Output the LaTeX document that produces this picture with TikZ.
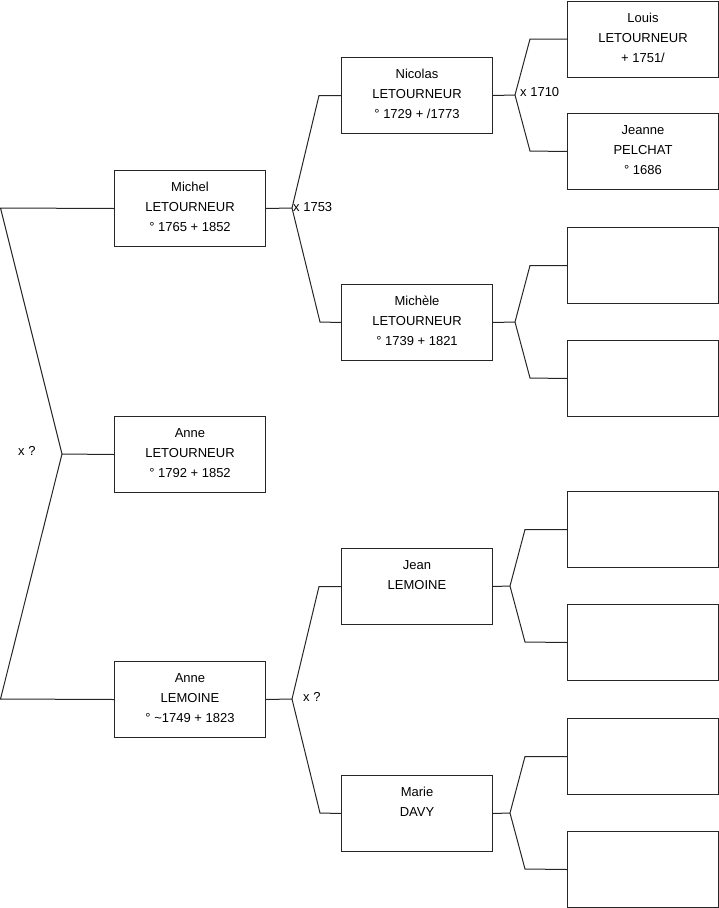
\documentclass[tikz,border=0pt]{standalone}
\usepackage{fontspec}
\setmainfont{Liberation Sans}
\newcommand{\pers}[1]{\parbox[c][76pt][t]{151pt}{\centering\rule{0pt}{21pt}#1}}
\tikzset{
  pbox/.style={draw=black!85, line width=1pt, inner sep=0pt, anchor=north west, font=\fontsize{13}{20}\selectfont},
  conn/.style={draw=black!85, line width=1pt},
  mlabel/.style={inner sep=0pt, anchor=west, font=\fontsize{13}{20}\selectfont}
}
\begin{document}
\begin{tikzpicture}[x=1pt,y=-1pt]
\useasboundingbox (0,0) rectangle (719,908);
% generation 1
\node[pbox] (mich) at (114,170) {\pers{Michel\\LETOURNEUR\\° 1765 + 1852}};
\node[pbox] (annlet) at (114,416) {\pers{Anne\\LETOURNEUR\\° 1792 + 1852}};
\node[pbox] (annlem) at (114,661) {\pers{Anne\\LEMOINE\\° \textasciitilde 1749 + 1823}};
% generation 2
\node[pbox] (nico) at (341,57) {\pers{Nicolas\\LETOURNEUR\\° 1729 + /1773}};
\node[pbox] (mchl) at (341,284) {\pers{Michèle\\LETOURNEUR\\° 1739 + 1821}};
\node[pbox] (jean) at (341,548) {\pers{Jean\\LEMOINE}};
\node[pbox] (marie) at (341,775) {\pers{Marie\\DAVY}};
% generation 3
\node[pbox] (louis) at (567,0.5) {\pers{Louis\\LETOURNEUR\\+ 1751/}};
\node[pbox] (jeanne) at (567,113) {\pers{Jeanne\\PELCHAT\\° 1686}};
\node[pbox] (e1) at (567,227) {\pers{}};
\node[pbox] (e2) at (567,340) {\pers{}};
\node[pbox] (e3) at (567,491) {\pers{}};
\node[pbox] (e4) at (567,604) {\pers{}};
\node[pbox] (e5) at (567,718) {\pers{}};
\node[pbox] (e6) at (567,831) {\pers{}};
% root connector
\coordinate (rt) at (0.5,208);
\coordinate (rm) at (62,454);
\coordinate (rb) at (0.5,699);
\draw[conn] (mich.west) -- (rt) -- (rm) -- (rb) -- (annlem.west);
\draw[conn] (annlet.west) -- (rm);
\node[mlabel] (lroot) at (18,451) {x ?};
% Michel's parents
\coordinate (jm) at (292,208);
\draw[conn] (mich.east) -- (jm);
\draw[conn] (nico.west) -- ++(-22,0) -- (jm) -- (320,322) -- (mchl.west);
\node[mlabel] (lm) at (293,207) {x 1753};
% Anne LEMOINE's parents
\coordinate (ja) at (292,699);
\draw[conn] (annlem.east) -- (ja);
\draw[conn] (jean.west) -- ++(-22,0) -- (ja) -- (320,813) -- (marie.west);
\node[mlabel] (la) at (303,697) {x ?};
% Nicolas's parents
\coordinate (jn) at (515,95);
\draw[conn] (nico.east) -- (jn);
\draw[conn] (louis.west) -- ++(-37,0) -- (jn) -- (530,151) -- (jeanne.west);
\node[mlabel] (ln) at (520,92) {x 1710};
% Michele's parents
\coordinate (jc) at (515,322);
\draw[conn] (mchl.east) -- (jc);
\draw[conn] (e1.west) -- ++(-37,0) -- (jc) -- (530,378) -- (e2.west);
% Jean's parents
\coordinate (jj) at (510,586);
\draw[conn] (jean.east) -- (jj);
\draw[conn] (e3.west) -- ++(-42,0) -- (jj) -- (525,642) -- (e4.west);
% Marie's parents
\coordinate (jr) at (510,813);
\draw[conn] (marie.east) -- (jr);
\draw[conn] (e5.west) -- ++(-42,0) -- (jr) -- (525,869) -- (e6.west);
\end{tikzpicture}
\end{document}
